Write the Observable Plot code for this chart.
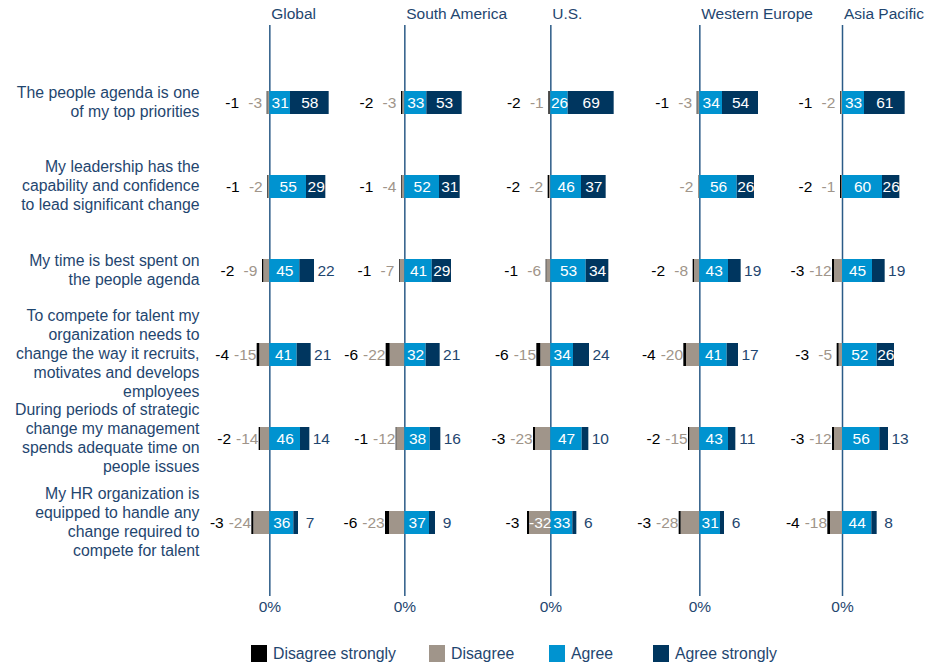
<!DOCTYPE html>
<html>
<head>
<meta charset="utf-8">
<script src="https://cdn.jsdelivr.net/npm/d3@7"></script>
<script src="https://cdn.jsdelivr.net/npm/@observablehq/plot@0.6"></script>
<style>
  html, body { margin: 0; padding: 0; background: #fff; }
  body { position: relative; width: 938px; height: 662px; overflow: hidden; font-family: "Liberation Sans", Arial, Helvetica, sans-serif; }
  #chart { position: absolute; left: 0; top: 0; }
  #legend { position: absolute; left: 0; top: 645px; width: 938px; height: 17px; }
  .item { position: absolute; top: 0; height: 17px; }
  .sw { position: absolute; left: 0; top: 0; width: 16px; height: 17px; }
  .lab { position: absolute; left: 22px; top: 0; line-height: 17px; font-size: 15.8px; color: #1f466f; white-space: nowrap; }
</style>
</head>
<body>
<div id="chart"></div>
<div id="legend"></div>
<script>
// ---------- data ----------
const regions = ["Global", "South America", "U.S.", "Western Europe", "Asia Pacific"];
const questions = [
  "The people agenda is one\nof my top priorities",
  "My leadership has the\ncapability and confidence\nto lead significant change",
  "My time is best spent on\nthe people agenda",
  "To compete for talent my\norganization needs to\nchange the way it recruits,\nmotivates and develops\nemployees",
  "During periods of strategic\nchange my management\nspends adequate time on\npeople issues",
  "My HR organization is\nequipped to handle any\nchange required to\ncompete for talent"
];
const categories = ["Disagree strongly", "Disagree", "Agree", "Agree strongly"];
// rows = regions (in order above), columns = questions (in order above)
const disagreeStrongly = [
  [1, 1, 2, 4, 2, 3],
  [2, 1, 1, 6, 1, 6],
  [2, 2, 1, 6, 3, 3],
  [1, 0, 2, 4, 2, 3],
  [1, 2, 3, 3, 3, 4]
];
const disagree = [
  [3, 2, 9, 15, 14, 24],
  [3, 4, 7, 22, 12, 23],
  [1, 2, 6, 15, 23, 32],
  [3, 2, 8, 20, 15, 28],
  [2, 1, 12, 5, 12, 18]
];
const agree = [
  [31, 55, 45, 41, 46, 36],
  [33, 52, 41, 32, 38, 37],
  [26, 46, 53, 34, 47, 33],
  [34, 56, 43, 41, 43, 31],
  [33, 60, 45, 52, 56, 44]
];
const agreeStrongly = [
  [58, 29, 22, 21, 14, 7],
  [53, 31, 29, 21, 16, 9],
  [69, 37, 34, 24, 10, 6],
  [54, 26, 19, 17, 11, 6],
  [61, 26, 19, 26, 13, 8]
];
const tickLabel = "0%";

// ---------- layout / style ----------
// horizontal position of each region's 0% baseline, in x-scale units
const regionOffset = [404, 606.5, 825.5, 1049, 1263];
const colors = ["#000000", "#a0958a", "#0093d0", "#00365f"];
const textColor = "#1f466f";
const ruleColor = "#2b5b87";
const taupeText = "#a0958a";
const font = "'Liberation Sans', Arial, Helvetica, sans-serif";

// ---------- derived table ----------
const segs = [];
const labels = [];
regions.forEach((r, ri) => {
  const o = regionOffset[ri];
  questions.forEach((q, qi) => {
    const sd = disagreeStrongly[ri][qi], d = disagree[ri][qi], a = agree[ri][qi], as = agreeStrongly[ri][qi];
    segs.push({region: r, question: q, cat: categories[1], x1: o - d, x2: o});
    segs.push({region: r, question: q, cat: categories[0], x1: o - d - sd, x2: o - d});
    segs.push({region: r, question: q, cat: categories[2], x1: o, x2: o + a});
    segs.push({region: r, question: q, cat: categories[3], x1: o + a, x2: o + a + as});
    labels.push({kind: "in", question: q, x: o + a / 2, text: String(a)});
    if (as >= 25) labels.push({kind: "in", question: q, x: o + a + as / 2, text: String(as)});
    else labels.push({kind: "asOut", question: q, x: o + a + as, text: String(as)});
    const inside = d >= 30;
    if (inside) labels.push({kind: "in", question: q, x: o - d / 2, text: "-" + d});
    else labels.push({kind: "dOut", question: q, x: o - d - sd, text: "-" + d});
    if (sd > 0) labels.push({kind: inside ? "sdNear" : "sdOut", question: q, x: o - d - sd, text: "-" + sd});
  });
});
const ofKind = (k) => labels.filter((l) => l.kind === k);
const labelOpts = {x: "x", y: "question", text: "text", textAnchor: "middle", lineAnchor: "middle", fontSize: 15.5};

const chart = Plot.plot({
  width: 938,
  height: 625,
  marginLeft: 200,
  marginRight: 0,
  marginTop: 25,
  marginBottom: 35,
  style: {fontFamily: font, background: "#ffffff", overflow: "visible"},
  x: {domain: [300, 1407]},
  y: {domain: questions, range: [27, 597.6], padding: 0.729},
  color: {domain: categories, range: colors},
  marks: [
    Plot.ruleX(regionOffset, {stroke: ruleColor, strokeWidth: 1.5}),
    Plot.barX(segs, {x1: "x1", x2: "x2", y: "question", fill: "cat"}),
    Plot.text(ofKind("in"), {...labelOpts, fill: "#ffffff"}),
    Plot.text(ofKind("asOut"), {...labelOpts, fill: textColor, dx: 11.5}),
    Plot.text(ofKind("dOut"), {...labelOpts, fill: taupeText, dx: -12}),
    Plot.text(ofKind("sdOut"), {...labelOpts, fill: "#000000", dx: -35}),
    Plot.text(ofKind("sdNear"), {...labelOpts, fill: "#000000", dx: -15}),
    Plot.text(regions, {x: (d, i) => regionOffset[i], frameAnchor: "top", lineAnchor: "middle", dy: -11, dx: 1.4, textAnchor: "start", fill: textColor, fontSize: 15.5}),
    Plot.axisY({tickSize: 0, tickPadding: 1, dy: -2, fontSize: 15.8, lineHeight: 1.2, color: textColor, label: null}),
    Plot.axisX({ticks: regionOffset, tickFormat: () => tickLabel, tickSize: 6, tickPadding: 4, strokeWidth: 1.5, color: ruleColor, fill: textColor, fontSize: 15.5, label: null})
  ]
});
document.getElementById("chart").appendChild(chart);

// ---------- legend ----------
const legendLeft = [251, 429, 549, 653];
const legend = document.getElementById("legend");
categories.forEach((c, i) => {
  const it = document.createElement("div");
  it.className = "item";
  it.style.left = legendLeft[i] + "px";
  const sw = document.createElement("div");
  sw.className = "sw";
  sw.style.background = colors[i];
  const lab = document.createElement("div");
  lab.className = "lab";
  lab.textContent = c;
  it.appendChild(sw);
  it.appendChild(lab);
  legend.appendChild(it);
});
</script>
</body>
</html>
